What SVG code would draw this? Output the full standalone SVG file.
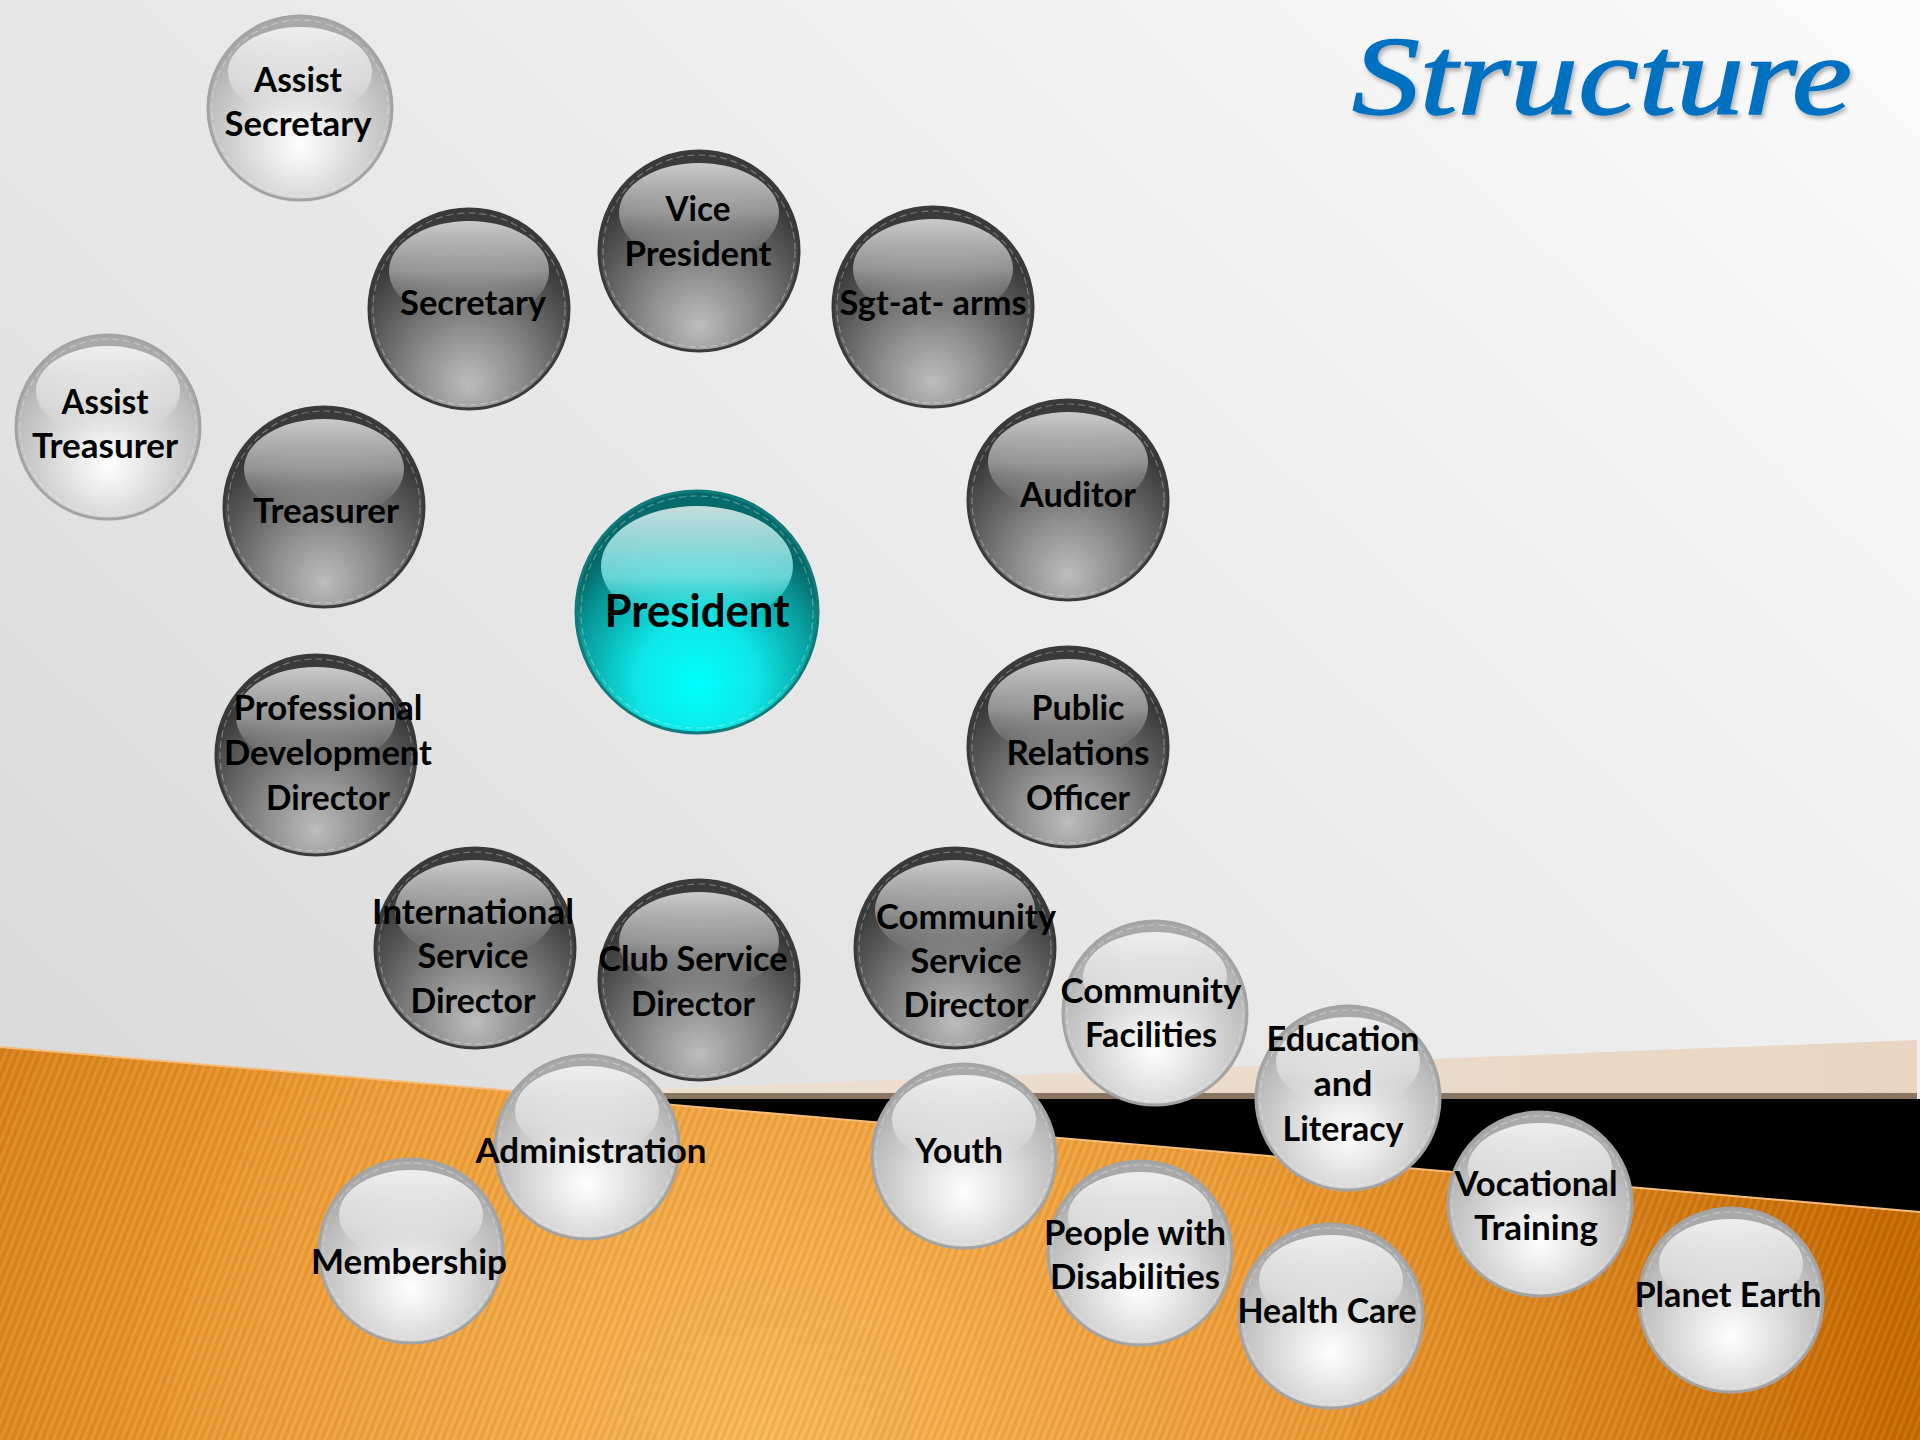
<svg xmlns="http://www.w3.org/2000/svg" width="1920" height="1440" viewBox="0 0 1920 1440">
<defs>
  <linearGradient id="bg" x1="0" y1="0.8" x2="1" y2="0">
    <stop offset="0" stop-color="#d9d9d9"/>
    <stop offset="0.55" stop-color="#ececec"/>
    <stop offset="1" stop-color="#fbfbfb"/>
  </linearGradient>
  <radialGradient id="orange" gradientUnits="userSpaceOnUse" cx="760" cy="1440" r="1150">
    <stop offset="0" stop-color="#f9b656"/>
    <stop offset="0.45" stop-color="#ec9b34"/>
    <stop offset="1" stop-color="#c46800"/>
  </radialGradient>
  <linearGradient id="peach" x1="0" y1="0" x2="1" y2="0">
    <stop offset="0" stop-color="#eedfd0"/>
    <stop offset="1" stop-color="#e9d6c2"/>
  </linearGradient>
  <pattern id="stripes" patternUnits="userSpaceOnUse" width="7" height="7" patternTransform="rotate(22)">
    <rect width="7" height="7" fill="none"/>
    <line x1="1" y1="0" x2="1" y2="7" stroke="#ffffff" stroke-opacity="0.12" stroke-width="1.5"/>
    <line x1="4.5" y1="0" x2="4.5" y2="7" stroke="#7a3e00" stroke-opacity="0.12" stroke-width="1.5"/>
  </pattern>
  <radialGradient id="gDark" cx="0.5" cy="0.8" r="0.65" fx="0.5" fy="0.88">
    <stop offset="0" stop-color="#bdbdbd"/>
    <stop offset="0.4" stop-color="#8c8c8c"/>
    <stop offset="0.8" stop-color="#555555"/>
    <stop offset="1" stop-color="#3a3a3a"/>
  </radialGradient>
  <linearGradient id="hDark" x1="0" y1="0" x2="0" y2="1">
    <stop offset="0" stop-color="#d2d2d2" stop-opacity="0.95"/>
    <stop offset="0.5" stop-color="#b0b0b0" stop-opacity="0.75"/>
    <stop offset="1" stop-color="#8a8a8a" stop-opacity="0"/>
  </linearGradient>
  <radialGradient id="gSilver" cx="0.5" cy="0.66" r="0.6" fx="0.5" fy="0.7">
    <stop offset="0" stop-color="#ffffff"/>
    <stop offset="0.45" stop-color="#dedede"/>
    <stop offset="0.85" stop-color="#bcbcbc"/>
    <stop offset="1" stop-color="#a9a9a9"/>
  </radialGradient>
  <linearGradient id="hSilver" x1="0" y1="0" x2="0" y2="1">
    <stop offset="0" stop-color="#eeeeee" stop-opacity="1"/>
    <stop offset="0.6" stop-color="#e4e4e4" stop-opacity="0.7"/>
    <stop offset="1" stop-color="#d8d8d8" stop-opacity="0"/>
  </linearGradient>
  <radialGradient id="gPres" cx="0.5" cy="0.76" r="0.62" fx="0.5" fy="0.8">
    <stop offset="0" stop-color="#00ffff"/>
    <stop offset="0.4" stop-color="#0ee6e6"/>
    <stop offset="0.8" stop-color="#099a9a"/>
    <stop offset="1" stop-color="#066a6a"/>
  </radialGradient>
  <linearGradient id="hPres" x1="0" y1="0" x2="0" y2="1">
    <stop offset="0" stop-color="#c6dcdc" stop-opacity="1"/>
    <stop offset="0.6" stop-color="#7ee8e8" stop-opacity="0.8"/>
    <stop offset="1" stop-color="#30e8e8" stop-opacity="0"/>
  </linearGradient>
  <filter id="tshadow" x="-5%" y="-20%" width="110%" height="140%">
    <feDropShadow dx="2" dy="3" stdDeviation="2" flood-color="#000" flood-opacity="0.3"/>
  </filter>
  <style>
    .dark{fill:url(#gDark);stroke:#3a3a3a;stroke-width:3}
    .silver{fill:url(#gSilver);stroke:#a3a3a3;stroke-width:3}
    .pres{fill:url(#gPres);stroke:#117a7a;stroke-width:3}
    .hd{fill:url(#hDark)}
    .hs{fill:url(#hSilver)}
    .hp{fill:url(#hPres)}
    .rim{fill:none;stroke:#ffffff;stroke-opacity:0.3;stroke-width:1.2;stroke-dasharray:7 4}
    .lbl{font-family:"Lato","Open Sans","DejaVu Sans",sans-serif;font-weight:bold;font-size:34px;fill:#000;text-anchor:middle}
    .big{font-size:46px}
    .title{font-family:"Liberation Serif","DejaVu Serif",serif;font-style:italic;font-size:112px;fill:#0070c0;stroke:#0070c0;stroke-width:1.5}
  </style>
</defs>

<g id="background">
  <rect x="0" y="0" width="1920" height="1440" fill="url(#bg)"/>
  <polygon points="605,1091 1917,1040 1917,1095 605,1095" fill="url(#peach)"/>
  <rect x="605" y="1093" width="1312" height="6" fill="#8a7563"/>
  <polygon points="605,1099 1920,1099 1920,1212" fill="#000"/>
  <polygon points="0,1047 1920,1212 1920,1440 0,1440" fill="url(#orange)"/>
  <polygon points="0,1047 1920,1212 1920,1440 0,1440" fill="url(#stripes)"/>
  <line x1="0" y1="1047" x2="1920" y2="1212" stroke="#f4bd7a" stroke-width="2"/>
</g>

<text class="title" x="1352" y="114" textLength="500" lengthAdjust="spacingAndGlyphs" filter="url(#tshadow)">Structure</text>

<g id="connectors"/>

<g id="nodes">
  <g id="assist-secretary">
    <circle class="silver" cx="300" cy="108" r="92"/>
    <ellipse class="hs" cx="300" cy="72" rx="72" ry="45"/>
    <circle class="rim" cx="300" cy="108" r="88"/>
    <text class="lbl" x="298" y="92" textLength="88" lengthAdjust="spacingAndGlyphs">Assist</text>
    <text class="lbl" x="298" y="136" textLength="147" lengthAdjust="spacingAndGlyphs">Secretary</text>
  </g>
  <g id="vice-president">
    <circle class="dark" cx="699" cy="251" r="100"/>
    <ellipse class="hd" cx="699" cy="213" rx="80" ry="50"/>
    <circle class="rim" cx="699" cy="251" r="96"/>
    <text class="lbl" x="698" y="221" textLength="65" lengthAdjust="spacingAndGlyphs">Vice</text>
    <text class="lbl" x="698" y="266" textLength="147" lengthAdjust="spacingAndGlyphs">President</text>
  </g>
  <g id="secretary">
    <circle class="dark" cx="469" cy="309" r="100"/>
    <ellipse class="hd" cx="469" cy="271" rx="80" ry="50"/>
    <circle class="rim" cx="469" cy="309" r="96"/>
    <text class="lbl" x="473" y="315" textLength="146" lengthAdjust="spacingAndGlyphs">Secretary</text>
  </g>
  <g id="sgt-at-arms">
    <circle class="dark" cx="933" cy="307" r="100"/>
    <ellipse class="hd" cx="933" cy="269" rx="80" ry="50"/>
    <circle class="rim" cx="933" cy="307" r="96"/>
    <text class="lbl" x="933" y="315" textLength="187" lengthAdjust="spacingAndGlyphs">Sgt-at- arms</text>
  </g>
  <g id="assist-treasurer">
    <circle class="silver" cx="108" cy="427" r="92"/>
    <ellipse class="hs" cx="108" cy="391" rx="72" ry="45"/>
    <circle class="rim" cx="108" cy="427" r="88"/>
    <text class="lbl" x="105" y="414" textLength="87" lengthAdjust="spacingAndGlyphs">Assist</text>
    <text class="lbl" x="105" y="458" textLength="146" lengthAdjust="spacingAndGlyphs">Treasurer</text>
  </g>
  <g id="treasurer">
    <circle class="dark" cx="324" cy="507" r="100"/>
    <ellipse class="hd" cx="324" cy="469" rx="80" ry="50"/>
    <circle class="rim" cx="324" cy="507" r="96"/>
    <text class="lbl" x="326" y="523" textLength="146" lengthAdjust="spacingAndGlyphs">Treasurer</text>
  </g>
  <g id="auditor">
    <circle class="dark" cx="1068" cy="500" r="100"/>
    <ellipse class="hd" cx="1068" cy="462" rx="80" ry="50"/>
    <circle class="rim" cx="1068" cy="500" r="96"/>
    <text class="lbl" x="1078" y="507" textLength="116" lengthAdjust="spacingAndGlyphs">Auditor</text>
  </g>
  <g id="president">
    <circle class="pres" cx="697" cy="612" r="121"/>
    <ellipse class="hp" cx="697" cy="566" rx="96" ry="60"/>
    <circle class="rim" cx="697" cy="612" r="116"/>
    <text class="lbl big" x="697" y="627" textLength="185" lengthAdjust="spacingAndGlyphs">President</text>
  </g>
  <g id="professional-development-director">
    <circle class="dark" cx="316" cy="755" r="100"/>
    <ellipse class="hd" cx="316" cy="717" rx="80" ry="50"/>
    <circle class="rim" cx="316" cy="755" r="96"/>
    <text class="lbl" x="328" y="720" textLength="189" lengthAdjust="spacingAndGlyphs">Professional</text>
    <text class="lbl" x="328" y="765" textLength="208" lengthAdjust="spacingAndGlyphs">Development</text>
    <text class="lbl" x="328" y="810" textLength="124" lengthAdjust="spacingAndGlyphs">Director</text>
  </g>
  <g id="public-relations-officer">
    <circle class="dark" cx="1068" cy="747" r="100"/>
    <ellipse class="hd" cx="1068" cy="709" rx="80" ry="50"/>
    <circle class="rim" cx="1068" cy="747" r="96"/>
    <text class="lbl" x="1078" y="720" textLength="93" lengthAdjust="spacingAndGlyphs">Public</text>
    <text class="lbl" x="1078" y="765" textLength="143" lengthAdjust="spacingAndGlyphs">Relations</text>
    <text class="lbl" x="1078" y="810" textLength="104" lengthAdjust="spacingAndGlyphs">Officer</text>
  </g>
  <g id="international-service-director">
    <circle class="dark" cx="475" cy="948" r="100"/>
    <ellipse class="hd" cx="475" cy="910" rx="80" ry="50"/>
    <circle class="rim" cx="475" cy="948" r="96"/>
    <text class="lbl" x="473" y="924" textLength="202" lengthAdjust="spacingAndGlyphs">International</text>
    <text class="lbl" x="473" y="968" textLength="111" lengthAdjust="spacingAndGlyphs">Service</text>
    <text class="lbl" x="473" y="1013" textLength="125" lengthAdjust="spacingAndGlyphs">Director</text>
  </g>
  <g id="club-service-director">
    <circle class="dark" cx="699" cy="980" r="100"/>
    <ellipse class="hd" cx="699" cy="942" rx="80" ry="50"/>
    <circle class="rim" cx="699" cy="980" r="96"/>
    <text class="lbl" x="693" y="971" textLength="189" lengthAdjust="spacingAndGlyphs">Club Service</text>
    <text class="lbl" x="693" y="1016" textLength="124" lengthAdjust="spacingAndGlyphs">Director</text>
  </g>
  <g id="community-service-director">
    <circle class="dark" cx="955" cy="948" r="100"/>
    <ellipse class="hd" cx="955" cy="910" rx="80" ry="50"/>
    <circle class="rim" cx="955" cy="948" r="96"/>
    <text class="lbl" x="966" y="929" textLength="180" lengthAdjust="spacingAndGlyphs">Community</text>
    <text class="lbl" x="966" y="973" textLength="111" lengthAdjust="spacingAndGlyphs">Service</text>
    <text class="lbl" x="966" y="1017" textLength="125" lengthAdjust="spacingAndGlyphs">Director</text>
  </g>
  <g id="community-facilities">
    <circle class="silver" cx="1155" cy="1013" r="92"/>
    <ellipse class="hs" cx="1155" cy="977" rx="72" ry="45"/>
    <circle class="rim" cx="1155" cy="1013" r="88"/>
    <text class="lbl" x="1151" y="1003" textLength="181" lengthAdjust="spacingAndGlyphs">Community</text>
    <text class="lbl" x="1151" y="1047" textLength="132" lengthAdjust="spacingAndGlyphs">Facilities</text>
  </g>
  <g id="education-and-literacy">
    <circle class="silver" cx="1348" cy="1098" r="92"/>
    <ellipse class="hs" cx="1348" cy="1062" rx="72" ry="45"/>
    <circle class="rim" cx="1348" cy="1098" r="88"/>
    <text class="lbl" x="1343" y="1051" textLength="153" lengthAdjust="spacingAndGlyphs">Education</text>
    <text class="lbl" x="1343" y="1096" textLength="59" lengthAdjust="spacingAndGlyphs">and</text>
    <text class="lbl" x="1343" y="1141" textLength="121" lengthAdjust="spacingAndGlyphs">Literacy</text>
  </g>
  <g id="administration">
    <circle class="silver" cx="587" cy="1147" r="92"/>
    <ellipse class="hs" cx="587" cy="1111" rx="72" ry="45"/>
    <circle class="rim" cx="587" cy="1147" r="88"/>
    <text class="lbl" x="591" y="1163" textLength="231" lengthAdjust="spacingAndGlyphs">Administration</text>
  </g>
  <g id="youth">
    <circle class="silver" cx="964" cy="1156" r="92"/>
    <ellipse class="hs" cx="964" cy="1120" rx="72" ry="45"/>
    <circle class="rim" cx="964" cy="1156" r="88"/>
    <text class="lbl" x="959" y="1163" textLength="88" lengthAdjust="spacingAndGlyphs">Youth</text>
  </g>
  <g id="vocational-training">
    <circle class="silver" cx="1540" cy="1204" r="92"/>
    <ellipse class="hs" cx="1540" cy="1168" rx="72" ry="45"/>
    <circle class="rim" cx="1540" cy="1204" r="88"/>
    <text class="lbl" x="1536" y="1196" textLength="163" lengthAdjust="spacingAndGlyphs">Vocational</text>
    <text class="lbl" x="1536" y="1240" textLength="124" lengthAdjust="spacingAndGlyphs">Training</text>
  </g>
  <g id="membership">
    <circle class="silver" cx="411" cy="1251" r="92"/>
    <ellipse class="hs" cx="411" cy="1215" rx="72" ry="45"/>
    <circle class="rim" cx="411" cy="1251" r="88"/>
    <text class="lbl" x="409" y="1274" textLength="196" lengthAdjust="spacingAndGlyphs">Membership</text>
  </g>
  <g id="people-with-disabilities">
    <circle class="silver" cx="1140" cy="1253" r="92"/>
    <ellipse class="hs" cx="1140" cy="1217" rx="72" ry="45"/>
    <circle class="rim" cx="1140" cy="1253" r="88"/>
    <text class="lbl" x="1135" y="1245" textLength="182" lengthAdjust="spacingAndGlyphs">People with</text>
    <text class="lbl" x="1135" y="1289" textLength="170" lengthAdjust="spacingAndGlyphs">Disabilities</text>
  </g>
  <g id="health-care">
    <circle class="silver" cx="1331" cy="1316" r="92"/>
    <ellipse class="hs" cx="1331" cy="1280" rx="72" ry="45"/>
    <circle class="rim" cx="1331" cy="1316" r="88"/>
    <text class="lbl" x="1327" y="1323" textLength="179" lengthAdjust="spacingAndGlyphs">Health Care</text>
  </g>
  <g id="planet-earth">
    <circle class="silver" cx="1731" cy="1300" r="92"/>
    <ellipse class="hs" cx="1731" cy="1264" rx="72" ry="45"/>
    <circle class="rim" cx="1731" cy="1300" r="88"/>
    <text class="lbl" x="1728" y="1307" textLength="187" lengthAdjust="spacingAndGlyphs">Planet Earth</text>
  </g>
</g>
</svg>
